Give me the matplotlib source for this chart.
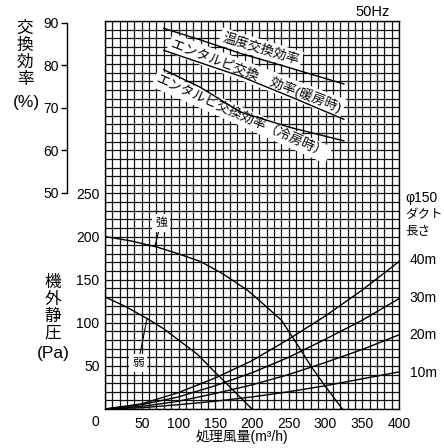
import numpy as np
import matplotlib
matplotlib.use("Agg")
import matplotlib.pyplot as plt
from matplotlib.ticker import MultipleLocator

plt.rcParams['font.family'] = ['Liberation Sans', 'Noto Sans CJK JP']

# efficiency curves (%), air volume in m3/h
eff_x = [80, 130, 184, 250, 325]
eff_temp = [88.3, 85.6, 82.5, 79.2, 75.4]
eff_heat = [83.2, 80.3, 77.2, 72.6, 67.2]
eff_cool = [78.7, 74.6, 68.9, 65.4, 62.2]

# fan curves, external static pressure (Pa)
strong_x = [0, 35, 70, 100, 130, 160, 195, 215, 240, 260, 280, 300, 323]
strong_p = [200, 195, 188, 180, 171, 157, 137, 122, 103, 77, 50, 26, 0]
weak_x = [0, 30, 57, 80, 100, 125, 147, 160, 180, 200]
weak_p = [130, 118, 105, 93, 80, 64, 45, 34, 17, 0]

# duct resistance curves (phi150)
duct_x = [0, 50, 100, 150, 200, 250, 300, 350, 400]
duct_curves = {
    "40m": [0, 6, 19, 36, 56, 81, 108, 138, 171],
    "30m": [0, 5, 14, 27, 42, 60, 81, 103, 128],
    "20m": [0, 3, 9, 18, 28, 40, 54, 69, 86],
    "10m": [0, 1.5, 5, 9, 14, 20, 27, 35, 43],
}

x_ticks = [50, 100, 150, 200, 250, 300, 350, 400]
p_ticks = [50, 100, 150, 200, 250]
eff_ticks = [50, 60, 70, 80, 90]

W, H = 444, 448


def fx(px):
    return px / W


def fy(py):
    return 1 - py / H


fig = plt.figure(figsize=(W / 100, H / 100), dpi=100)
ax = fig.add_axes([fx(105), fy(409), (399 - 105) / W, (409 - 21) / H])
ax.set_xlim(0, 400)
ax.set_ylim(0, 450)

ax.xaxis.set_minor_locator(MultipleLocator(10))
ax.yaxis.set_minor_locator(MultipleLocator(10))
ax.set_xticks(x_ticks)
ax.set_yticks(p_ticks)
ax.grid(which='both', color='#111111', linewidth=0.9, zorder=0)
ax.set_axisbelow(True)
ax.tick_params(which='both', length=0)
ax.tick_params(axis='x', pad=6, labelsize=10)
ax.tick_params(axis='y', pad=4, labelsize=10)
for s in ax.spines.values():
    s.set_linewidth(1.0)
    s.set_color('black')

# efficiency curves on twin axis (0..90 % maps onto 0..450)
ax2 = ax.twinx()
ax2.set_ylim(0, 90)
ax2.axis('off')
curve = dict(color='black', lw=1.0, zorder=12)
ax2.plot(eff_x, eff_temp, **curve)
ax2.plot(eff_x, eff_heat, **curve)
ax2.plot(eff_x, eff_cool, **curve)

# fan and duct curves
ax2.plot(strong_x, np.array(strong_p) / 5, **curve)
ax2.plot(weak_x, np.array(weak_p) / 5, **curve)
for name, vals in duct_curves.items():
    ax2.plot(duct_x, np.array(vals) / 5, **curve)

white = dict(boxstyle='square,pad=0.25', fc='white', ec='none')
ax2.annotate('強', xy=(68, 189 / 5), xytext=(76, 216 / 5), fontsize=8.5,
             ha='center', va='center', bbox=white, zorder=10,
             arrowprops=dict(arrowstyle='-', lw=0.8, color='black', shrinkA=0, shrinkB=0))
ax2.annotate('弱', xy=(57, 104 / 5), xytext=(45, 53 / 5), fontsize=8.5,
             ha='center', va='center', bbox=white, zorder=10,
             arrowprops=dict(arrowstyle='-', lw=0.8, color='black', shrinkA=0, shrinkB=0))

lbl = dict(fontsize=9.5, ha='center', va='center', zorder=10,
           bbox=dict(boxstyle='square,pad=0.2', fc='white', ec='none'))
ax2.text(212, 83.6, '温度交換効率', rotation=-17, **lbl)
ax2.text(206, 77.3, 'エンタルピ交換　効率(暖房時)', rotation=-21, **lbl)
ax2.text(186, 67.8, 'エンタルピ交換効率（冷房時）', rotation=-24, **lbl)

# efficiency scale
eax = fig.add_axes([fx(67), fy(193), 0.0001, (193 - 22.7) / H])
eax.set_ylim(50, 90)
eax.set_yticks(eff_ticks)
eax.set_xticks([])
eax.patch.set_alpha(0)
for k in ['top', 'right', 'bottom']:
    eax.spines[k].set_visible(False)
eax.spines['left'].set_linewidth(1.0)
eax.tick_params(axis='y', direction='out', length=4, width=1.0, pad=2, labelsize=10)

# axis titles
fig.text(fx(25), fy(54), '交\n換\n効\n率', fontsize=12, ha='center', va='center', linespacing=1.15)
fig.text(fx(26), fy(102), '(%)', fontsize=12.5, ha='center', va='center')
fig.text(fx(53), fy(308), '機\n外\n静\n圧', fontsize=12, ha='center', va='center', linespacing=1.15)
fig.text(fx(53), fy(353), '(Pa)', fontsize=12.5, ha='center', va='center')
fig.text(fx(95), fy(422), '0', fontsize=10, ha='center', va='center')
fig.text(fx(242), fy(437), '処理風量(m³/h)', fontsize=10, ha='center', va='center')
fig.text(fx(373), fy(12), '50Hz', fontsize=10.5, ha='center', va='center')

fig.text(fx(405), fy(198), 'φ150', fontsize=10, ha='left', va='center')
fig.text(fx(405), fy(215), 'ダクト', fontsize=9, ha='left', va='center')
fig.text(fx(405), fy(232), '長さ', fontsize=9, ha='left', va='center')
for name, py in zip(duct_curves.keys(), [260, 298, 335, 373]):
    fig.text(fx(423), fy(py), name, fontsize=10, ha='center', va='center')

fig.savefig('out.png', dpi=100)
